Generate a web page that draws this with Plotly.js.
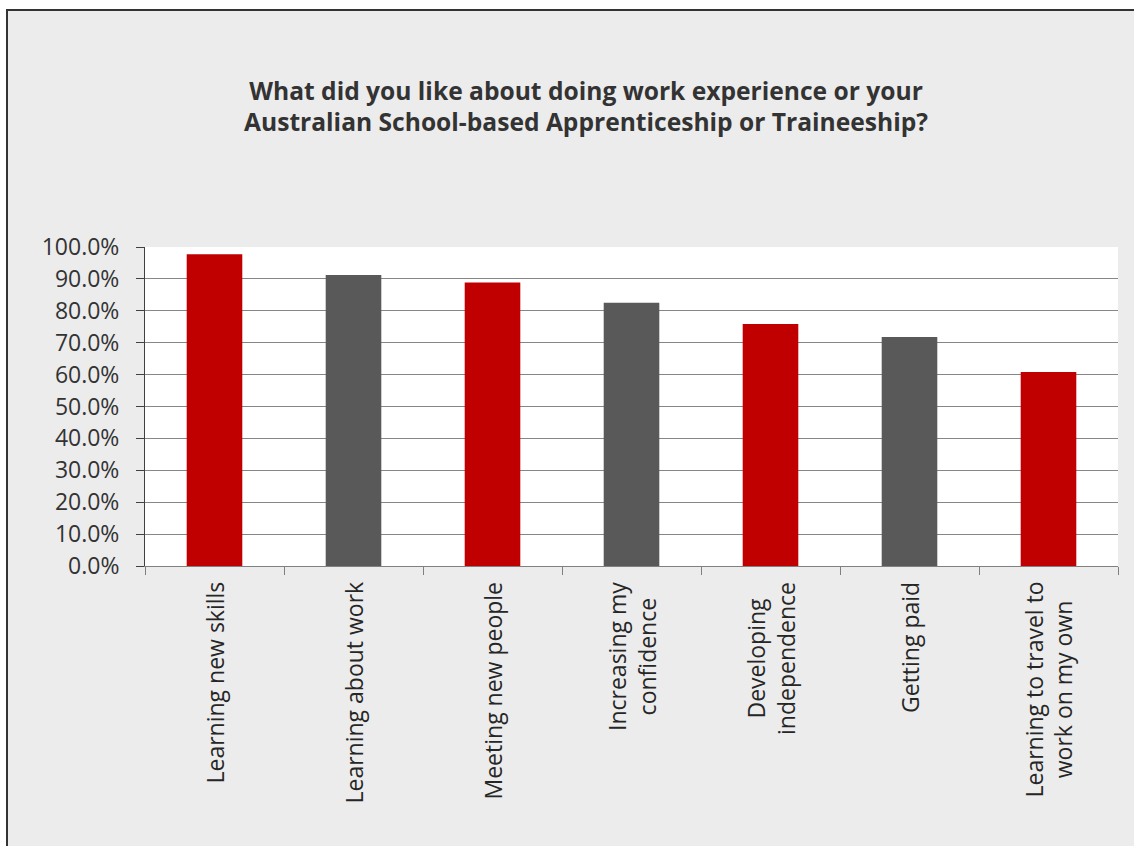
<!DOCTYPE html>
<html>
<head>
<meta charset="utf-8">
<script src="https://cdn.plot.ly/plotly-3.0.1.min.js"></script>
<style>
  html, body { margin: 0; padding: 0; background: #ffffff; width: 1134px; height: 846px; overflow: hidden; }
  #frame { position: absolute; left: 6px; top: 9px; width: 1200px; height: 900px; background: #ececec; border-left: 2px solid #333333; border-top: 2px solid #333333; }
  #chart { position: absolute; left: 0; top: 0; width: 1134px; height: 846px; }
</style>
</head>
<body>
<div id="frame"></div>
<div id="chart"></div>
<script>
const categories = [
  "Learning new skills",
  "Learning about work",
  "Meeting new people",
  "Increasing my<br>confidence",
  "Developing<br>independence",
  "Getting paid",
  "Learning to travel to<br>work on my own"
];
const values = [97.7, 91.2, 88.9, 82.5, 75.9, 71.8, 60.8];
const barColors = ["#C00000", "#595959", "#C00000", "#595959", "#C00000", "#595959", "#C00000"];
const yTickVals = [0, 10, 20, 30, 40, 50, 60, 70, 80, 90, 100];
const yTickText = yTickVals.map(v => v.toFixed(1) + "%");
const titleText = "What did you like about doing work experience or your<br>Australian School-based Apprenticeship or Traineeship?";

const FONT = "Open Sans, Noto Sans, sans-serif";

const trace = {
  type: "bar",
  x: categories,
  y: values,
  marker: { color: barColors, line: { width: 0 } },
  hoverinfo: "skip"
};

const annotations = categories.map(c => ({
  x: c, xref: "x",
  y: 0, yref: "paper",
  yanchor: "top", xanchor: "center",
  yshift: -14,
  text: c,
  textangle: -90,
  align: "center",
  showarrow: false,
  font: { family: FONT, size: 23, color: "#262626" }
}));

const layout = {
  width: 1134, height: 846,
  paper_bgcolor: "rgba(0,0,0,0)",
  plot_bgcolor: "#ffffff",
  margin: { l: 145, r: 16, t: 247, b: 279.5, pad: 0 },
  showlegend: false,
  bargap: 0.6,
  title: {
    text: titleText,
    font: { family: FONT, size: 24.6, color: "#333333", weight: "bold" },
    xref: "container", x: 0.5168, xanchor: "center",
    yref: "container", y: 1 - 99.5 / 846, yanchor: "middle"
  },
  xaxis: {
    type: "category",
    showticklabels: false,
    ticks: "outside",
    tickson: "boundaries",
    ticklen: 8,
    tickcolor: "#808080",
    tickwidth: 1,
    showline: true,
    linecolor: "#808080",
    linewidth: 1,
    showgrid: false,
    zeroline: false,
    fixedrange: true
  },
  yaxis: {
    range: [0, 100],
    tickvals: yTickVals,
    ticktext: yTickText,
    ticks: "outside",
    ticklen: 8,
    tickcolor: "#404040",
    tickwidth: 1,
    ticklabelstandoff: 12,
    showline: true,
    linecolor: "#404040",
    linewidth: 1,
    showgrid: true,
    gridcolor: "#868686",
    gridwidth: 1,
    zeroline: false,
    tickfont: { family: FONT, size: 23, color: "#333333" },
    fixedrange: true
  },
  annotations: annotations
};

Plotly.newPlot("chart", [trace], layout, { displayModeBar: false, staticPlot: true });
</script>
</body>
</html>
